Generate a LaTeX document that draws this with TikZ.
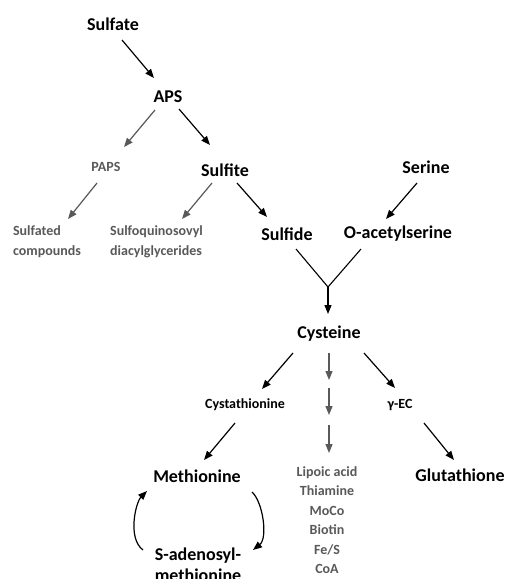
\documentclass[tikz,border=0pt]{standalone}
\usepackage{fontspec}
\setmainfont{Carlito}
\usetikzlibrary{arrows.meta}
\definecolor{gr}{HTML}{595959}
\begin{document}
\begin{tikzpicture}[x=1pt,y=-1pt,
  big/.style={font=\fontsize{18}{21}\selectfont\bfseries, inner sep=0pt},
  small/.style={font=\fontsize{14}{16}\selectfont\bfseries, inner sep=0pt},
  grt/.style={font=\fontsize{14}{20}\selectfont\bfseries, text=gr, inner sep=0pt},
  arr/.style={line width=1.2pt, -{Triangle[length=9pt,width=7pt]}},
  garr/.style={arr, draw=gr, fill=gr},
  ln/.style={line width=1.1pt}
]
\fill[white] (0,0) rectangle (508,579);
\useasboundingbox (0,0) rectangle (508,579);

\node[big] (sulfate) at (113,24) {Sulfate};
\node[big] (aps) at (168,97) {APS};
\node[grt] (paps) at (106,167) {PAPS};
\node[big] (sulfite) at (225,170) {Sulfite};
\node[big] (serine) at (426,167) {Serine};
\node[grt, align=left] (sulfated) at (47,242) {Sulfated\\compounds};
\node[grt, align=left] (sqdg) at (156.5,242) {Sulfoquinosovyl\\diacylglycerides};
\node[big] (sulfide) at (287,234) {Sulfide};
\node[big] (oas) at (398,234) {O-acetylserine};
\coordinate (junc) at (328,287);
\node[big] (cysteine) at (329,334) {Cysteine};
\node[small] (cysta) at (245,405) {Cystathionine};
\node[small] (gec) at (400,405) {γ-EC};
\coordinate (c1) at (329,384);
\coordinate (c2) at (329,420);
\node[big] (methionine) at (197,476) {Methionine};
\node[big] (glutathione) at (460,475) {Glutathione};
\node[grt, align=center, font=\fontsize{14}{19.5}\selectfont\bfseries] (cof) at (327,520) {Lipoic acid\\Thiamine\\MoCo\\Biotin\\Fe/S\\CoA};
\node[big, align=center] (sam) at (198,565) {S-adenosyl-\\methionine};

\draw[arr] ([shift={(9,16)}]sulfate.center) -- ([shift={(-14,-19)}]aps.center);
\draw[garr] ([shift={(-13,13)}]aps.center) -- ([shift={(18,-20)}]paps.center);
\draw[arr] ([shift={(11,12)}]aps.center) -- ([shift={(-15,-25)}]sulfite.center);
\draw[garr] ([shift={(-9,16)}]paps.center) -- ([shift={(21,-23)}]sulfated.center);
\draw[garr] ([shift={(-13,13)}]sulfite.center) -- ([shift={(25.5,-23)}]sqdg.center);
\draw[arr] ([shift={(12,13)}]sulfite.center) -- ([shift={(-20,-17)}]sulfide.center);
\draw[arr] ([shift={(-9,16)}]serine.center) -- ([shift={(-12,-15)}]oas.center);
\draw[ln] ([shift={(9,15)}]sulfide.center) -- (junc);
\draw[ln] ([shift={(-37,15)}]oas.center) -- (junc);
\draw[arr] (junc) -- ([shift={(-1,-20)}]cysteine.center);
\draw[arr] ([shift={(-36,19)}]cysteine.center) -- ([shift={(17,-16)}]cysta.center);
\draw[garr] ([shift={(0,19)}]cysteine.center) -- ([shift={(0,-4)}]c1);
\draw[garr] ([shift={(0,4)}]c1) -- ([shift={(0,-5)}]c2);
\draw[garr] ([shift={(0,5)}]c2) -- ([shift={(2,-67)}]cof.center);
\draw[arr] ([shift={(35,19)}]cysteine.center) -- ([shift={(-5,-17)}]gec.center);
\draw[arr] ([shift={(-10,18)}]cysta.center) -- ([shift={(7,-16)}]methionine.center);
\draw[arr] ([shift={(24,18)}]gec.center) -- ([shift={(-6,-15)}]glutathione.center);
\draw[arr] ([shift={(-55,-15)}]sam.center) .. controls +(-16,-12) and +(-11,11) .. ([shift={(-50,15)}]methionine.center);
\draw[arr] ([shift={(55,16)}]methionine.center) .. controls +(11,10) and +(15,-12) .. ([shift={(55,-15)}]sam.center);
\end{tikzpicture}
\end{document}
